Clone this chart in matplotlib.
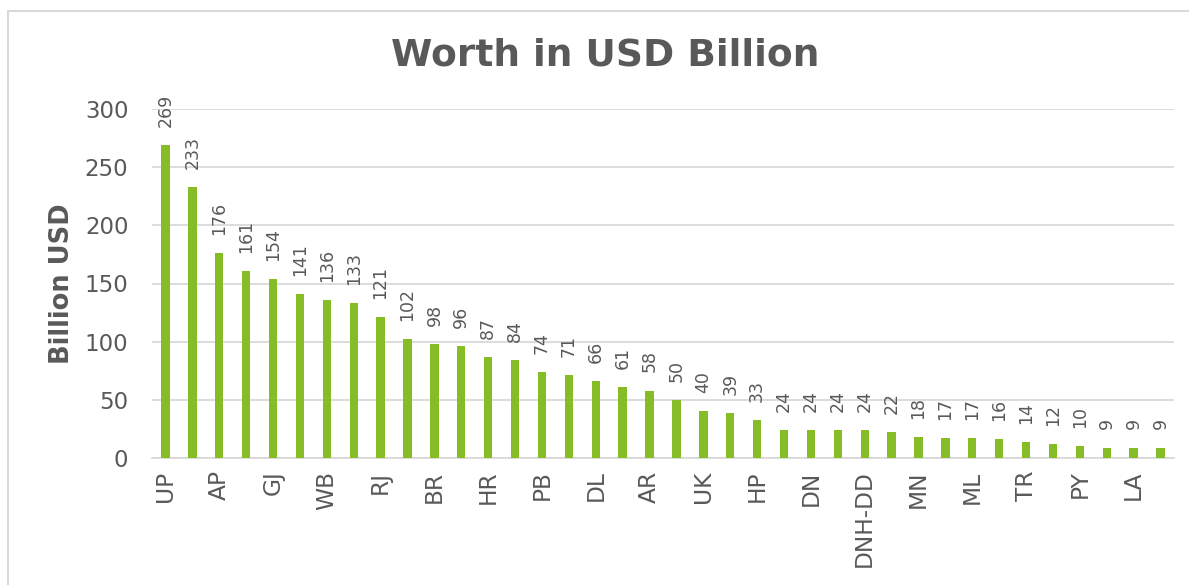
import matplotlib
matplotlib.use('Agg')
import matplotlib.pyplot as plt
from matplotlib.patches import Rectangle
import numpy as np


# state codes (only every other one gets a tick label) and worth in USD billion
STATES = ['UP', 'MH', 'AP', 'KA', 'GJ', 'TN', 'WB', 'MP', 'RJ', 'TS',
          'BR', 'KL', 'HR', 'OD', 'PB', 'JH', 'DL', 'CG', 'AR', 'AS',
          'UK', 'JK', 'HP', 'GA', 'DN', 'CH', 'DNH-DD', 'SK', 'MN', 'NL',
          'ML', 'MZ', 'TR', 'AN', 'PY', 'LD', 'LA', 'DD']
WORTH = [269, 233, 176, 161, 154, 141, 136, 133, 121, 102,
         98, 96, 87, 84, 74, 71, 66, 61, 58, 50,
         40, 39, 33, 24, 24, 24, 24, 22, 18, 17,
         17, 16, 14, 12, 10, 9, 9, 9]

GREEN = '#86BC25'
GREY_TXT = '#595959'
GRID = '#D9D9D9'

fig = plt.figure(figsize=(11.89, 5.85), dpi=100)
ax = fig.add_axes([152/1189, 1 - 458/585, 1022/1189, 349/585])

x = np.arange(len(WORTH))
ax.bar(x, WORTH, width=0.31, color=GREEN, zorder=3)

for xi, v in zip(x, WORTH):
    ax.annotate(str(v), (xi, v), xytext=(0, 13), textcoords='offset points',
                rotation=90, ha='center', va='bottom', fontsize=12.5,
                color=GREY_TXT)

ax.set_xlim(-0.5, len(WORTH) - 0.5)
ax.set_ylim(0, 300)
ax.set_yticks(range(0, 301, 50))
ax.set_xticks(x[::2])
ax.set_xticklabels(STATES[::2], rotation=90, va='top', ha='center')
ax.tick_params(axis='x', length=0, pad=9, labelsize=16.8, labelcolor=GREY_TXT)
ax.tick_params(axis='y', length=0, pad=17, labelsize=16.5, labelcolor=GREY_TXT)

ax.grid(axis='y', color=GRID, lw=1.3, zorder=0)
for s in ['top', 'right', 'left']:
    ax.spines[s].set_visible(False)
ax.spines['bottom'].set_color(GRID)
ax.spines['bottom'].set_linewidth(1.3)

ax.set_ylabel('Billion USD', fontsize=18.5, fontweight='bold', color=GREY_TXT,
              labelpad=7)
fig.text(605/1189, 1 - 55/585, 'Worth in USD Billion', ha='center',
         va='center', fontsize=27, fontweight='bold', color=GREY_TXT)

# outer chart frame, runs off the right and bottom edges
fig.patches.append(Rectangle((8/1189, -0.1), 1.2, 1.1 - 11/585,
                             transform=fig.transFigure, fill=False,
                             edgecolor=GRID, lw=1.5))

fig.savefig('out.png', dpi=100)
